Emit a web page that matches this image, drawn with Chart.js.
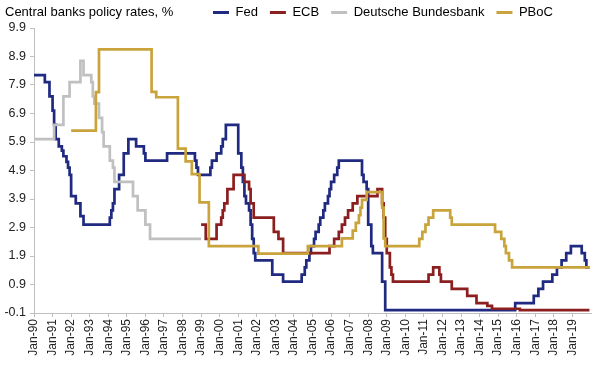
<!DOCTYPE html>
<html>
<head>
<meta charset="utf-8">
<script src="https://cdn.jsdelivr.net/npm/chart.js@4.4.1/dist/chart.umd.min.js"></script>
<style>
  html, body { margin: 0; padding: 0; background: #fff; }
</style>
</head>
<body>
<canvas id="chart" width="596" height="366"></canvas>
<script>
// chart text
const chartTitle = 'Central banks policy rates, %';
const seriesNames = ['Fed', 'ECB', 'Deutsche Bundesbank', 'PBoC'];

// axis ticks
const xTickLabels = ['Jan-90','Jan-91','Jan-92','Jan-93','Jan-94','Jan-95','Jan-96','Jan-97','Jan-98','Jan-99',
                     'Jan-00','Jan-01','Jan-02','Jan-03','Jan-04','Jan-05','Jan-06','Jan-07','Jan-08','Jan-09',
                     'Jan-10','Jan-11','Jan-12','Jan-13','Jan-14','Jan-15','Jan-16','Jan-17','Jan-18','Jan-19'];
const yTicks = [-0.1, 0.9, 1.9, 2.9, 3.9, 4.9, 5.9, 6.9, 7.9, 8.9, 9.9];

// policy rate changes (month of change, new rate)
const fedDates = ['1990-01','1990-08','1990-11','1991-01','1991-02','1991-03','1991-05','1991-07','1991-08','1991-10',
                  '1991-11','1991-12','1992-01','1992-04','1992-07','1992-09','1994-02','1994-03','1994-04','1994-05',
                  '1994-08','1994-11','1995-02','1995-07','1995-12','1996-01','1997-03','1998-09','1998-10','1998-11',
                  '1999-07','1999-08','1999-11','2000-02','2000-03','2000-05','2001-01','2001-03','2001-04','2001-05',
                  '2001-06','2001-08','2001-09','2001-10','2001-11','2001-12','2002-11','2003-06','2004-06','2004-08',
                  '2004-09','2004-11','2004-12','2005-02','2005-03','2005-05','2005-06','2005-08','2005-09','2005-11',
                  '2005-12','2006-01','2006-03','2006-05','2006-06','2007-09','2007-10','2007-12','2008-01','2008-03',
                  '2008-04','2008-10','2008-12','2015-12','2016-12','2017-03','2017-06','2017-12','2018-03','2018-06',
                  '2018-09','2018-12','2019-07','2019-09','2019-10'];
const fedRates = [8.25, 8.0, 7.5, 7.0, 6.5, 6.0, 5.75, 5.6, 5.4, 5.2,
                  5.0, 4.75, 4.0, 3.75, 3.3, 3.0, 3.25, 3.5, 3.75, 4.25,
                  4.75, 5.5, 6.0, 5.75, 5.5, 5.25, 5.5, 5.25, 5.0, 4.75,
                  5.0, 5.25, 5.5, 5.75, 6.0, 6.5, 5.5, 5.0, 4.5, 4.0,
                  3.75, 3.5, 3.0, 2.5, 2.0, 1.75, 1.25, 1.0, 1.25, 1.5,
                  1.75, 2.0, 2.25, 2.5, 2.75, 3.0, 3.25, 3.5, 3.75, 4.0,
                  4.25, 4.5, 4.75, 5.0, 5.25, 4.75, 4.5, 4.25, 3.0, 2.25,
                  2.0, 1.0, 0.0, 0.25, 0.5, 0.75, 1.0, 1.25, 1.5, 1.75,
                  2.0, 2.25, 2.0, 1.75, 1.5];
const fedEnd = '2019-12';

const ecbDates = ['1999-01','1999-04','1999-11','2000-02','2000-03','2000-04','2000-06','2000-10','2001-05','2001-08',
                  '2001-09','2001-11','2002-12','2003-03','2003-06','2005-12','2006-03','2006-06','2006-08','2006-10',
                  '2006-12','2007-03','2007-06','2008-07','2008-10','2008-11','2008-12','2009-01','2009-03','2009-04',
                  '2009-05','2011-04','2011-07','2011-11','2011-12','2012-07','2013-05','2013-11','2014-06','2014-09',
                  '2016-03'];
const ecbRates = [3.0, 2.5, 3.0, 3.25, 3.5, 3.75, 4.25, 4.75, 4.5, 4.25,
                  3.75, 3.25, 2.75, 2.5, 2.0, 2.25, 2.5, 2.75, 3.0, 3.25,
                  3.5, 3.75, 4.0, 4.25, 3.75, 3.25, 2.5, 2.0, 1.5, 1.25,
                  1.0, 1.25, 1.5, 1.25, 1.0, 0.75, 0.5, 0.25, 0.15, 0.05,
                  0.0];
const ecbEnd = '2019-12';

const bbkDates = ['1990-01','1991-02','1991-08','1991-12','1992-07','1992-09','1993-02','1993-03','1993-04','1993-07',
                  '1993-09','1993-10','1994-02','1994-04','1994-05','1995-05','1995-08','1996-01','1996-04'];
const bbkRates = [6.0, 6.5, 7.5, 8.0, 8.75, 8.25, 8.0, 7.5, 7.25, 6.75,
                  6.25, 5.75, 5.25, 5.0, 4.5, 4.0, 3.5, 3.0, 2.5];
const bbkEnd = '1999-01';

const pbocDates = ['1992-01','1993-05','1993-07','1996-05','1996-08','1997-10','1998-03','1998-07','1998-12','1999-06',
                   '2002-02','2004-10','2006-08','2007-03','2007-05','2007-07','2007-08','2007-09','2007-12','2008-10',
                   '2008-11','2008-12','2010-10','2010-12','2011-02','2011-04','2011-07','2012-06','2012-07','2014-11',
                   '2015-03','2015-05','2015-06','2015-08','2015-10'];
const pbocRates = [6.3, 7.65, 9.15, 7.66, 7.47, 5.67, 5.22, 4.77, 3.78, 2.25,
                   1.98, 2.25, 2.52, 2.79, 3.06, 3.33, 3.6, 3.87, 4.14, 3.6,
                   2.52, 2.25, 2.5, 2.75, 3.0, 3.25, 3.5, 3.25, 3.0, 2.75,
                   2.5, 2.25, 2.0, 1.75, 1.5];
const pbocEnd = '2019-12';

// styles
const seriesColors = ['#1F2A80', '#8B1F1F', '#C0C0C0', '#C9A43C'];
const fontFamily = '"Liberation Sans", Arial, sans-serif';

const toYear = (s) => {
    let [y, m] = s.split('-').map(Number);
    return y + (m - 1) / 12;
};

const stepPoints = (dates, rates, end) => {
    let pts = dates.map((d, i) => ({ x: toYear(d), y: rates[i] }));
    pts.push({ x: toYear(end), y: rates[rates.length - 1] });
    return pts;
};

const allSeries = [
    stepPoints(fedDates, fedRates, fedEnd),
    stepPoints(ecbDates, ecbRates, ecbEnd),
    stepPoints(bbkDates, bbkRates, bbkEnd),
    stepPoints(pbocDates, pbocRates, pbocEnd)
];

const datasets = allSeries.map((pts, i) => ({
    label: seriesNames[i],
    data: pts,
    borderColor: seriesColors[i],
    backgroundColor: seriesColors[i],
    borderWidth: 2.7,
    pointRadius: 0,
    stepped: true,
    order: 4 - i // later series drawn on top, like the original
}));

// title at the top left, same row as legend
const cornerTitle = {
    id: 'cornerTitle',
    afterDraw: (chart) => {
        const {ctx} = chart;
        ctx.save();
        ctx.font = '13px ' + fontFamily;
        ctx.fillStyle = '#000';
        ctx.textBaseline = 'middle';
        ctx.textAlign = 'left';
        ctx.fillText(chartTitle, 5, 12);
        ctx.restore();
    }
};

// keep the legend on the title row, pushed to the right
const legendPlace = {
    id: 'legendPlace',
    beforeInit: (chart) => {
        const fit = chart.legend.fit;
        chart.legend.fit = function(){
            fit.bind(chart.legend)();
            this.height = 28;
        };
    },
    afterLayout: (chart) => {
        chart.legend.left = 201;
        chart.legend.top = -6;
    }
};

const config = {
    type: 'line',
    data: { datasets: datasets },
    options: {
        responsive: false,
        animation: false,
        layout: { padding: { left: 0, right: 5, top: 0, bottom: 0 } },
        scales: {
            x: {
                type: 'linear',
                min: 1990,
                max: 2020,
                afterBuildTicks: (s) => {
                    s.ticks = xTickLabels.map((l, i) => ({ value: 1990 + i }));
                },
                afterFit: (s) => { s.height = 53; },
                ticks: {
                    autoSkip: false,
                    maxRotation: 90,
                    minRotation: 90,
                    padding: 2,
                    color: '#222',
                    font: { family: fontFamily, size: 12 },
                    callback: (v) => xTickLabels[Math.round(v - 1990)]
                },
                grid: { drawOnChartArea: false, tickLength: 4, color: '#BFBFBF' },
                border: { color: '#BFBFBF' }
            },
            y: {
                min: -0.1,
                max: 9.9,
                afterBuildTicks: (s) => {
                    s.ticks = yTicks.map(v => ({ value: v }));
                },
                afterFit: (s) => { s.width = 34; },
                ticks: {
                    padding: 4,
                    color: '#222',
                    font: { family: fontFamily, size: 12.5 },
                    callback: (v) => Number(v).toFixed(1)
                },
                grid: { drawOnChartArea: false, tickLength: 4, color: '#BFBFBF' },
                border: { color: '#BFBFBF' }
            }
        },
        plugins: {
            legend: {
                position: 'top',
                align: 'start',
                labels: {
                    boxWidth: 16,
                    boxHeight: 3,
                    padding: 12,
                    color: '#000',
                    font: { family: fontFamily, size: 13 },
                    sort: (a, b) => a.datasetIndex - b.datasetIndex,
                    generateLabels: (chart) => {
                        let items = Chart.defaults.plugins.legend.labels.generateLabels(chart);
                        items.forEach(it => { it.fillStyle = it.strokeStyle; it.lineWidth = 0; });
                        return items;
                    }
                }
            },
            tooltip: { enabled: false }
        }
    },
    plugins: [cornerTitle, legendPlace]
};

new Chart(document.getElementById('chart'), config);
</script>
</body>
</html>
